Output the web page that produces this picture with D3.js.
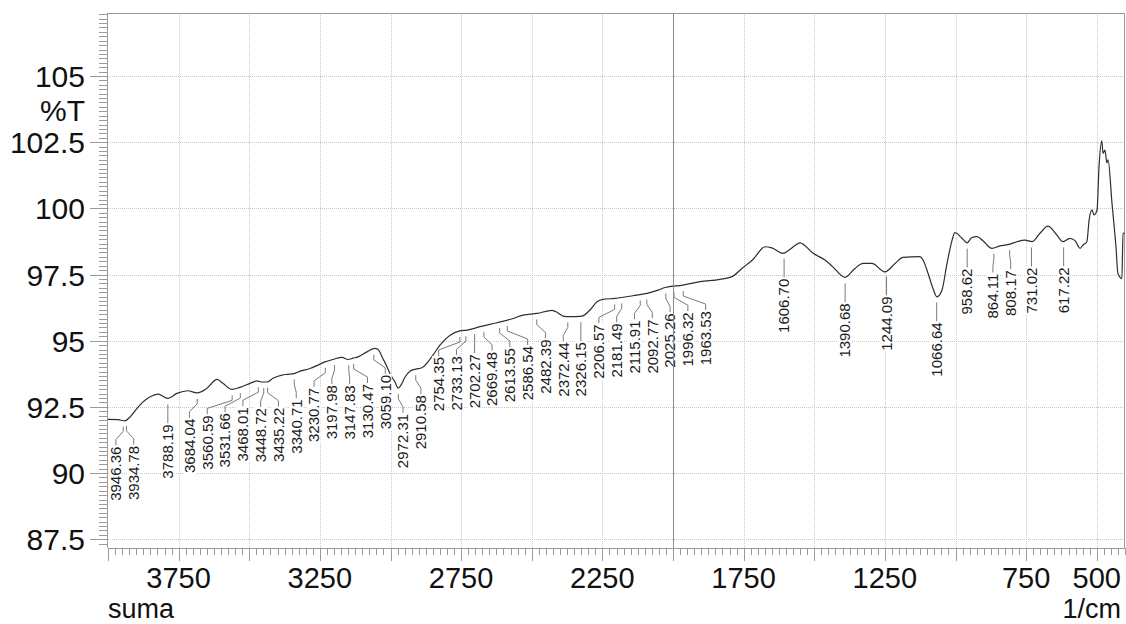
<!DOCTYPE html>
<html>
<head>
<meta charset="utf-8">
<script src="https://cdn.jsdelivr.net/npm/d3@7/dist/d3.min.js"></script>
<style>
  body { margin: 0; background: #fff; }
  svg { display: block; font-family: "Liberation Sans", Arial, sans-serif; }
</style>
</head>
<body>
<svg id="chart" width="1126" height="624"></svg>
<script>
// IR spectrum (sample "suma"): wavenumber in 1/cm, transmittance in %T
const wavenumber = [4000, 3965, 3940, 3922, 3887, 3851, 3823, 3788, 3756, 3717,
  3685, 3650, 3614, 3593, 3561, 3533, 3497, 3473, 3455, 3437,
  3416, 3384, 3366, 3342, 3320, 3285, 3257, 3232, 3204, 3172,
  3150, 3133, 3115, 3083, 3055, 3044, 3027, 3012, 3002, 2984,
  2973, 2963, 2949, 2931, 2910, 2889, 2854, 2825, 2789, 2754,
  2729, 2683, 2623, 2566, 2531, 2481, 2428, 2407, 2389, 2365,
  2322, 2294, 2269, 2248, 2205, 2142, 2092, 2053, 2028, 1965,
  1904, 1834, 1791, 1756, 1717, 1674, 1650, 1611, 1586, 1550,
  1504, 1462, 1434, 1391, 1356, 1327, 1296, 1250, 1214, 1186,
  1126, 1115, 1097, 1080, 1066, 1048, 1030, 1012, 1002, 977,
  959, 942, 924, 903, 871, 843, 807, 782, 754, 729,
  701, 673, 641, 620, 595, 577, 559, 549, 535, 527,
  517, 510, 499, 492, 482, 478, 471, 464, 460, 446,
  432, 425, 411, 407, 400];

const transmittance = [92.03, 92.02, 91.97, 92.12, 92.57, 92.88, 92.98, 92.82, 93.01, 93.11,
  93.03, 93.20, 93.54, 93.39, 93.16, 93.24, 93.39, 93.48, 93.44, 93.44,
  93.58, 93.70, 93.73, 93.76, 93.85, 93.95, 94.08, 94.20, 94.29, 94.37,
  94.29, 94.34, 94.39, 94.58, 94.71, 94.67, 94.33, 94.01, 93.76, 93.44,
  93.21, 93.32, 93.62, 93.85, 93.93, 93.98, 94.39, 94.83, 95.21, 95.37,
  95.40, 95.53, 95.68, 95.84, 95.97, 96.03, 96.15, 96.05, 95.93, 95.91,
  95.93, 96.16, 96.47, 96.56, 96.60, 96.70, 96.79, 96.91, 97.01, 97.10,
  97.23, 97.32, 97.42, 97.73, 98.07, 98.55, 98.51, 98.30, 98.45, 98.70,
  98.30, 98.05, 97.79, 97.39, 97.73, 97.92, 97.92, 97.60, 97.92, 98.15,
  98.18, 98.05, 97.54, 96.98, 96.66, 96.91, 97.92, 98.80, 99.08, 98.87,
  98.70, 98.90, 98.93, 98.78, 98.49, 98.58, 98.65, 98.74, 98.80, 98.74,
  99.06, 99.33, 98.99, 98.74, 98.87, 98.78, 98.49, 98.61, 98.74, 99.56,
  99.94, 99.75, 99.94, 101.57, 102.55, 102.08, 102.20, 101.72, 101.83, 100.19,
  98.55, 97.54, 97.35, 99.06, 99.07];

// Picked peaks (1/cm)
const peakLabels = ["3946.36", "3934.78", "3788.19", "3684.04", "3560.59", "3531.66",
  "3468.01", "3448.72", "3435.22", "3340.71", "3230.77", "3197.98", "3147.83",
  "3130.47", "3059.10", "2972.31", "2910.58", "2754.35", "2733.13", "2702.27",
  "2669.48", "2613.55", "2586.54", "2482.39", "2372.44", "2326.15", "2206.57",
  "2181.49", "2115.91", "2092.77", "2025.26", "1996.32", "1963.53", "1606.70",
  "1390.68", "1244.09", "1066.64", "958.62", "864.11", "808.17", "731.02", "617.22"];

const yTickValues = [87.5, 90, 92.5, 95, 97.5, 100, 102.5, 105];
const xTickLabels = [3750, 3250, 2750, 2250, 1750, 1250, 750, 500];
const xDomain = [4000, 400];
const yDomain = [87.17, 107.38];
const markerWavenumber = 2000;

const svg = d3.select("#chart");
const plotL = 108, plotR = 1125, plotT = 13, plotB = 548;

const x = d3.scaleLinear().domain(xDomain).range([plotL, plotR]);
const y = d3.scaleLinear().domain(yDomain).range([plotB, plotT]);

const axisColor = "#9a9a9a";
const gridColor = "#c9c9c9";

// ---- grid ----
const grid = svg.append("g");
grid.selectAll("line.h").data(yTickValues).join("line")
  .attr("x1", plotL).attr("x2", plotR)
  .attr("y1", d => Math.round(y(d)) + 0.5).attr("y2", d => Math.round(y(d)) + 0.5)
  .attr("stroke", gridColor).attr("stroke-width", 1).attr("stroke-dasharray", "1,1");
const vGrid = d3.range(3750, 499, -250);
grid.selectAll("line.v").data(vGrid).join("line")
  .attr("x1", d => Math.round(x(d)) + 0.5).attr("x2", d => Math.round(x(d)) + 0.5)
  .attr("y1", plotT).attr("y2", plotB)
  .attr("stroke", gridColor).attr("stroke-width", 1).attr("stroke-dasharray", "1,1");

// ---- frame and axes ----
const frame = svg.append("g").attr("stroke", axisColor).attr("stroke-width", 1);
frame.append("line").attr("x1", plotL).attr("x2", plotR).attr("y1", plotT + 0.5).attr("y2", plotT + 0.5);
frame.append("line").attr("x1", plotR - 0.5).attr("x2", plotR - 0.5).attr("y1", plotT).attr("y2", plotB);
frame.append("line").attr("x1", plotL - 0.5).attr("x2", plotL - 0.5).attr("y1", plotT).attr("y2", plotB);
frame.append("line").attr("x1", plotL).attr("x2", plotR).attr("y1", plotB + 0.5).attr("y2", plotB + 0.5);

// x ticks: minor every 25, major every 250
const xMinor = d3.range(4000, 399, -25);
frame.selectAll("line.xt").data(xMinor).join("line")
  .attr("x1", d => Math.round(x(d)) + 0.5).attr("x2", d => Math.round(x(d)) + 0.5)
  .attr("y1", plotB).attr("y2", d => plotB + (d % 250 === 0 ? 13 : 7));

// y ticks: major at labelled values, minor in sixths
const yMinor = d3.range(-3, 125).map(i => 87.5 + i / 6).filter(v => v >= yDomain[0] && v <= yDomain[1]);
frame.selectAll("line.ym").data(yMinor).join("line")
  .attr("x1", plotL - 9).attr("x2", plotL)
  .attr("y1", d => Math.round(y(d)) + 0.5).attr("y2", d => Math.round(y(d)) + 0.5);
frame.selectAll("line.yM").data(yTickValues).join("line")
  .attr("x1", plotL - 18).attr("x2", plotL)
  .attr("y1", d => Math.round(y(d)) + 0.5).attr("y2", d => Math.round(y(d)) + 0.5);

// tick labels and axis titles
const textG = svg.append("g").attr("fill", "#111");
textG.selectAll("text.y").data(yTickValues).join("text")
  .attr("font-size", 30)
  .attr("x", 85).attr("y", d => y(d) + 11).attr("text-anchor", "end")
  .text(d => String(d));
textG.append("text").attr("font-size", 30)
  .attr("x", 85).attr("y", 121).attr("text-anchor", "end").text("%T");
textG.selectAll("text.x").data(xTickLabels).join("text")
  .attr("font-size", 29)
  .attr("x", d => x(d)).attr("y", 587.5).attr("text-anchor", "middle")
  .text(d => String(d));
textG.append("text").attr("font-size", 27)
  .attr("x", plotL).attr("y", 618).text("suma");
textG.append("text").attr("font-size", 27)
  .attr("x", 1121).attr("y", 618).attr("text-anchor", "end").text("1/cm");

// ---- spectrum ----
const pts = wavenumber.map((w, i) => [w, transmittance[i]]);
const line = d3.line().x(d => x(d[0])).y(d => y(d[1])).curve(d3.curveMonotoneX);
svg.append("path").datum(pts)
  .attr("d", line).attr("fill", "none")
  .attr("stroke", "#2e2e2e").attr("stroke-width", 1.2).attr("stroke-linejoin", "round");

// ---- peak labels ----
function tAt(w) {
  for (let i = 0; i < wavenumber.length - 1; i++) {
    const w0 = wavenumber[i], w1 = wavenumber[i + 1];
    if (w <= w0 && w >= w1) {
      const t = (w0 - w) / (w0 - w1);
      return transmittance[i] + t * (transmittance[i + 1] - transmittance[i]);
    }
  }
  return transmittance[transmittance.length - 1];
}

// spread crowded labels into evenly spaced columns centred on their peaks
function spreadColumns(xs, gap) {
  let groups = xs.map(v => ({ n: 1, sum: v }));
  const leftCol = g => g.sum / g.n - (g.n - 1) * gap / 2;
  let merged = true;
  while (merged) {
    merged = false;
    for (let i = 0; i < groups.length - 1; i++) {
      const a = groups[i], b = groups[i + 1];
      if (leftCol(a) + a.n * gap > leftCol(b)) {
        groups.splice(i, 2, { n: a.n + b.n, sum: a.sum + b.sum });
        merged = true;
        break;
      }
    }
  }
  const cols = [];
  groups.forEach(g => { for (let k = 0; k < g.n; k++) cols.push(leftCol(g) + k * gap); });
  return cols;
}

const peaks = peakLabels.map(s => {
  const w = +s;
  return { label: s, px: x(w), cy: y(tAt(w)) };
});
const cols = spreadColumns(peaks.map(p => p.px), 17.8);
peaks.forEach((p, i) => { p.col = cols[i]; });

const labelG = svg.append("g");
labelG.selectAll("path").data(peaks).join("path")
  .attr("fill", "none").attr("stroke", "#7a7a7a").attr("stroke-width", 1)
  .attr("d", p => {
    if (Math.abs(p.col - p.px) < 0.6) {
      return `M${p.px},${p.cy + 6}V${p.cy + 25}`;
    }
    return `M${p.px},${p.cy + 6}V${p.cy + 11}L${p.col},${p.cy + 19}V${p.cy + 25}`;
  });

const lab = labelG.selectAll("g.lab").data(peaks).join("g")
  .attr("transform", p => `translate(${p.col},${p.cy + 26}) rotate(-90)`);
lab.append("text")
  .attr("text-anchor", "end").attr("dy", "0.35em")
  .attr("font-size", 15).attr("fill", "#1a1a1a")
  .text(p => p.label);
lab.each(function () {
  const g = d3.select(this);
  const bb = g.select("text").node().getBBox();
  g.insert("rect", "text")
    .attr("x", bb.x - 1).attr("width", bb.width + 2)
    .attr("y", -6.5).attr("height", 13)
    .attr("fill", "#fff");
});

// cursor line
svg.append("line")
  .attr("x1", Math.round(x(markerWavenumber)) + 0.5).attr("x2", Math.round(x(markerWavenumber)) + 0.5)
  .attr("y1", plotT).attr("y2", plotB)
  .attr("stroke", "#8c8c8c").attr("stroke-width", 1);
</script>
</body>
</html>
